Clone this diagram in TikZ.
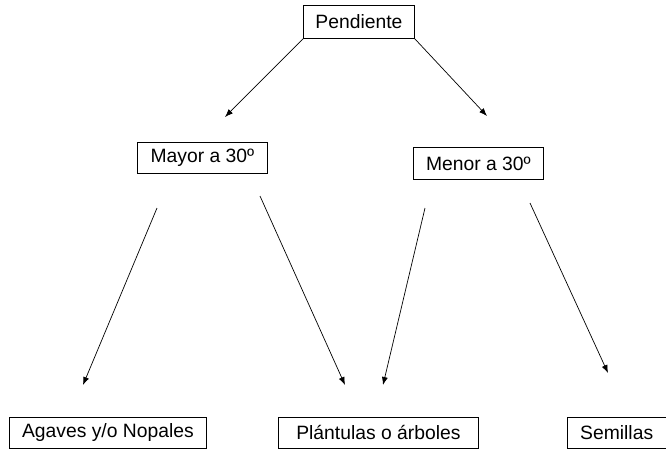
\documentclass[tikz,border=0pt]{standalone}
\usepackage{fontspec}
\setmainfont{Liberation Sans}
\usetikzlibrary{arrows.meta}
\begin{document}
\begin{tikzpicture}[x=1pt,y=-1pt,
  box/.style={draw=black, line width=0.8pt, anchor=north west, inner sep=0pt,
    font=\fontsize{19.3}{23}\selectfont},
  conn/.style={draw=black, line width=0.7pt, -{Latex[length=8pt,width=6pt]}}]
\useasboundingbox (0,0) rectangle (666,451);
\fill[white] (0,0) rectangle (666,451);
\node[box, minimum width=111pt, minimum height=33pt] (pend) at (303,5) {Pendiente};
\node[box, minimum width=130pt, minimum height=31pt] (mayor) at (137,142) {Mayor a 30º};
\node[box, minimum width=130pt, minimum height=32pt] (menor) at (413,147) {Menor a 30º};
\node[box, minimum width=197pt, minimum height=31pt] (agaves) at (9,417) {Agaves y/o Nopales};
\node[box, minimum width=200pt, minimum height=31pt] (plant) at (278,417) {Plántulas o árboles};
\node[box, minimum width=98.6pt, minimum height=31pt] (sem) at (567,417) {Semillas};
\coordinate (e1) at (225,117);
\coordinate (e2) at (487,116);
\coordinate (s3) at (157,208);
\coordinate (e3) at (83,385);
\coordinate (s4) at (260,196);
\coordinate (e4) at (345,385);
\coordinate (s5) at (425,208);
\coordinate (e5) at (383,385);
\coordinate (s6) at (530,203);
\coordinate (e6) at (608,373);
\draw[conn] (pend.south west) -- (e1);
\draw[conn] (pend.south east) -- (e2);
\draw[conn] (s3) -- (e3);
\draw[conn] (s4) -- (e4);
\draw[conn] (s5) -- (e5);
\draw[conn] (s6) -- (e6);
\end{tikzpicture}
\end{document}
